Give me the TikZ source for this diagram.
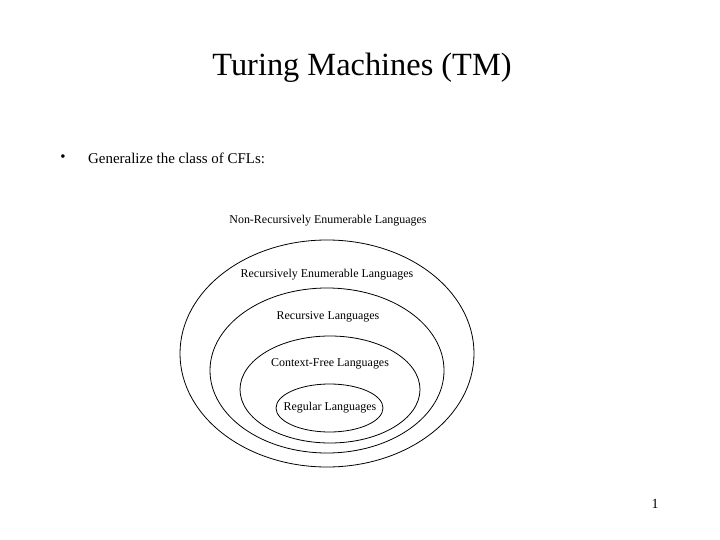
\documentclass[tikz,border=0pt]{standalone}
\usepackage{fontspec}
\setmainfont{Liberation Serif}
\usepackage{tikz}
\usetikzlibrary{positioning}

\tikzset{
  langlabel/.style={font=\fontsize{12}{14}\selectfont, inner sep=0pt},
  langset/.style={draw=black, line width=0.8pt},
}

\begin{document}
\begin{tikzpicture}[x=1bp, y=-1bp]
  \useasboundingbox[fill=white] (0,0) rectangle (720,540);

  % title and bullet
  \node[font=\fontsize{32.5}{36}\selectfont, inner sep=0pt] (title) at (362,68) {Turing Machines (TM)};
  \node[font=\fontsize{15}{17}\selectfont, inner sep=0pt] (bullet) at (63,158) {\textbullet};
  \node[font=\fontsize{15}{17}\selectfont, inner sep=0pt, anchor=west] (intro) at (88,158) {Generalize the class of CFLs:};

  % nested language classes
  \draw[langset] (327,353.5) ellipse [x radius=147, y radius=113.5];
  \draw[langset] (327,370.5) ellipse [x radius=117, y radius=82.5];
  \draw[langset] (330,389.5) ellipse [x radius=90, y radius=53.5];
  \draw[langset] (329.5,408) ellipse [x radius=53.5, y radius=24];

  \node[langlabel] (nre) at (328,221) {Non-Recursively Enumerable Languages};
  \node[langlabel] (re) at (327,275) {Recursively Enumerable Languages};
  \node[langlabel] (rec) at (328,317) {Recursive Languages};
  \node[langlabel] (cfl) at (330,364) {Context-Free Languages};
  \node[langlabel] (reg) at (330,408) {Regular Languages};

  \node[font=\fontsize{14}{16}\selectfont, inner sep=0pt] (page) at (655,504) {1};
\end{tikzpicture}
\end{document}
